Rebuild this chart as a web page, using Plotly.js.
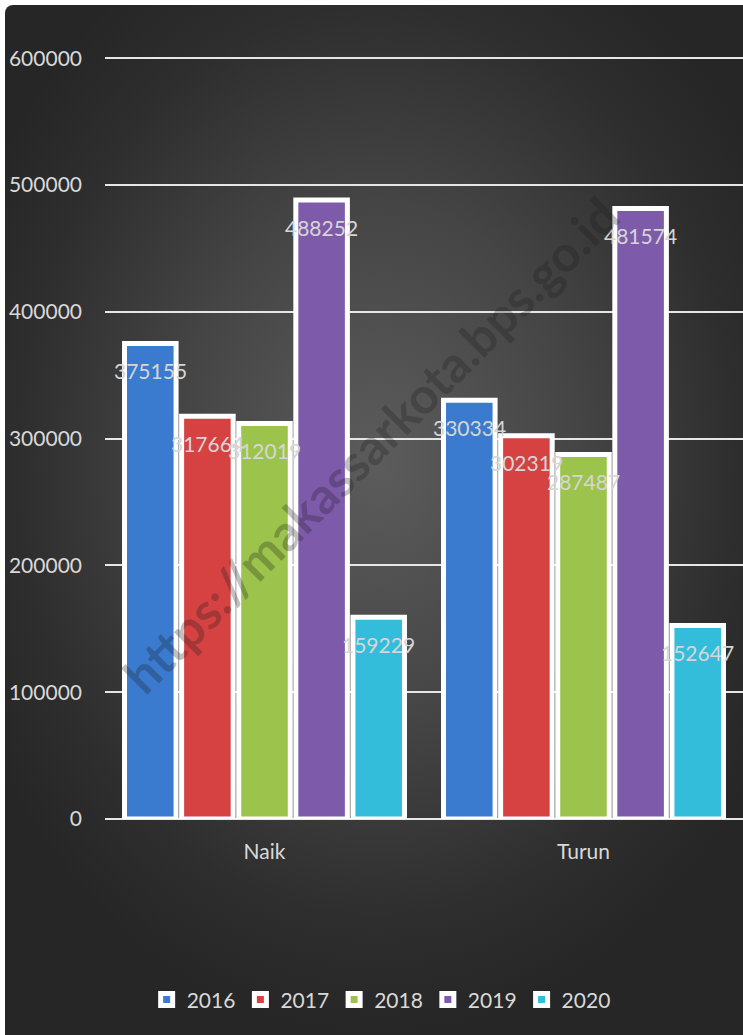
<!DOCTYPE html>
<html>
<head>
<meta charset="utf-8">
<script src="https://cdn.plot.ly/plotly-3.0.1.min.js"></script>
<style>
  html, body { margin: 0; padding: 0; background: #ffffff; }
  #wrap { position: relative; width: 743px; height: 1035px; overflow: hidden; }
  #bg { position: absolute; left: 5px; top: 5px; width: 745px; height: 1040px; border-radius: 8px;
        background: radial-gradient(ellipse 60% 55% at 50% 44%, #5c5c5c 0%, #454545 45%, #2e2e2e 80%, #262626 100%); }
  #chart { position: absolute; left: 0; top: 0; width: 743px; height: 1035px; }
</style>
</head>
<body>
<div id="wrap">
  <div id="bg"></div>
  <div id="chart"></div>
</div>
<script>
const categories = ['Naik', 'Turun'];
const years = ['2016', '2017', '2018', '2019', '2020'];
const values2016 = [375155, 330334];
const values2017 = [317664, 302319];
const values2018 = [312019, 287487];
const values2019 = [488252, 481574];
const values2020 = [159229, 152647];
const yTicks = [0, 100000, 200000, 300000, 400000, 500000, 600000];

const series = [values2016, values2017, values2018, values2019, values2020];
const colors = ['#3a7bd0', '#d64242', '#9cc44c', '#7e5aab', '#33bddb'];
const bargap = 0.105;
const nS = series.length;
const bw = (1 - bargap) / nS;
const labelFont = { family: 'Lato, "Open Sans", sans-serif', size: 21, color: '#d6d6d6' };

const traces = series.map((vals, k) => ({
  type: 'bar',
  name: years[k],
  x: categories,
  y: vals,
  marker: { color: colors[k], line: { color: '#ffffff', width: 5 } },
  hoverinfo: 'none'
}));

const annotations = [];
series.forEach((vals, k) => {
  vals.forEach((v, i) => {
    annotations.push({
      x: i + (k - (nS - 1) / 2) * bw,
      y: v,
      xref: 'x', yref: 'y',
      text: String(v),
      showarrow: false,
      yanchor: 'middle',
      yshift: -27,
      font: labelFont
    });
  });
});
annotations.push({
  xref: 'paper', yref: 'paper',
  x: 0.416, y: 0.476,
  xanchor: 'center', yanchor: 'middle',
  text: 'https://makassarkota.bps.go.id',
  showarrow: false,
  textangle: -45,
  font: { family: 'Lato, "Open Sans", sans-serif', size: 50, color: 'rgba(30,30,30,0.28)', weight: 'bold' }
});

const layout = {
  width: 743, height: 1035,
  margin: { l: 105, r: 0, t: 33, b: 216 },
  paper_bgcolor: 'rgba(0,0,0,0)',
  plot_bgcolor: 'rgba(0,0,0,0)',
  barmode: 'group',
  bargap: bargap,
  bargroupgap: 0.097,
  showlegend: true,
  font: { family: 'Lato, "Open Sans", sans-serif', color: '#d9d9d9' },
  xaxis: {
    type: 'category',
    showgrid: false,
    showline: false,
    zeroline: false,
    ticks: '',
    ticklabelstandoff: 18,
    tickfont: { size: 21, color: '#d9d9d9' },
    fixedrange: true
  },
  yaxis: {
    range: [0, 620000],
    tickvals: yTicks,
    ticktext: yTicks.map(String),
    showgrid: true,
    gridcolor: '#e6e6e6',
    gridwidth: 2,
    zeroline: true,
    zerolinecolor: '#e6e6e6',
    zerolinewidth: 2,
    showline: false,
    ticks: '',
    ticklabelstandoff: 22,
    tickfont: { size: 21, color: '#d9d9d9' },
    fixedrange: true
  },
  legend: {
    orientation: 'h',
    xref: 'container', yref: 'container',
    x: 0.513, xanchor: 'center',
    y: 0.034, yanchor: 'middle',
    font: { size: 21, color: '#d9d9d9' },
    bgcolor: 'rgba(0,0,0,0)',
    traceorder: 'normal',
    itemwidth: 30
  },
  annotations: annotations
};

Plotly.newPlot('chart', traces, layout, { displayModeBar: false, staticPlot: true });
</script>
</body>
</html>
